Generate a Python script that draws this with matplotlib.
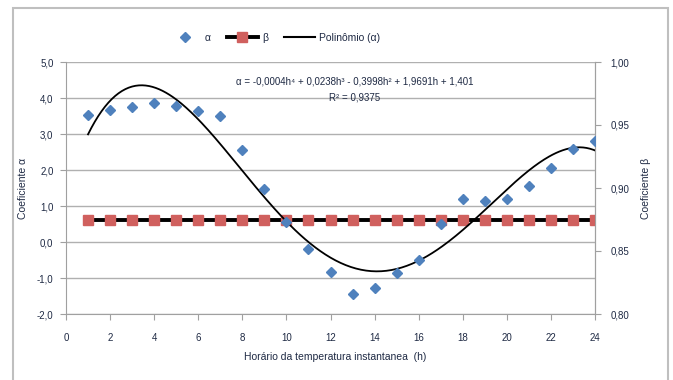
import numpy as np
import matplotlib
matplotlib.use("Agg")
import matplotlib.pyplot as plt
from matplotlib.patches import Rectangle

hours = list(range(1, 25))
alpha = [3.53, 3.67, 3.75, 3.86, 3.78, 3.64, 3.50, 2.56, 1.47, 0.56, -0.19, -0.83,
         -1.44, -1.28, -0.86, -0.50, 0.50, 1.20, 1.14, 1.20, 1.56, 2.06, 2.58, 2.80]
beta = [0.875] * 24
yticks_left = [-2.0, -1.0, 0.0, 1.0, 2.0, 3.0, 4.0, 5.0]
yticks_right = [0.80, 0.85, 0.90, 0.95, 1.00]
xticks = list(range(0, 25, 2))

plt.rcParams['font.family'] = ['Liberation Sans', 'DejaVu Sans']
txt = '#1f2a44'
W, H = 673, 380
fig = plt.figure(figsize=(W/100, H/100), dpi=100)
fig.patches.append(Rectangle((13/W, -0.1), (668-13)/W, 1.1 - 8/H, transform=fig.transFigure,
                             fill=False, edgecolor='#bfbfbf', linewidth=1.5))

l, r, t, b = 66, 595, 62, 314
ax = fig.add_axes([l/W, 1 - b/H, (r-l)/W, (b-t)/H])
ax.set_xlim(0, 24)
ax.set_ylim(-2, 5)
ax.set_yticks(yticks_left)
ax.set_yticklabels([f"{v:.1f}".replace('.', ',') for v in yticks_left])
ax.set_xticks(xticks)
ax.set_xticklabels([str(v) for v in xticks])
for y in yticks_left:
    ax.axhline(y, color='#b0b0b0', lw=1.0, zorder=0)
ax.spines['top'].set_visible(False)
for s in ['left', 'bottom', 'right']:
    ax.spines[s].set_color('#a0a0a0')
ax.tick_params(axis='both', direction='out', length=4, color='#a0a0a0', labelsize=7, labelcolor=txt)
ax.tick_params(axis='y', pad=5)
ax.tick_params(axis='x', pad=10)

ax2 = ax.twinx()
ax2.set_ylim(0.80, 1.00)
ax2.set_yticks(yticks_right)
ax2.set_yticklabels([f"{v:.2f}".replace('.', ',') for v in yticks_right])
for s in ['top', 'left', 'bottom']:
    ax2.spines[s].set_visible(False)
ax2.spines['right'].set_color('#a0a0a0')
ax2.tick_params(axis='y', direction='out', length=4, color='#a0a0a0', labelsize=7, labelcolor=txt, pad=7)

# beta on secondary axis
lb, = ax2.plot(hours, beta, color='black', lw=2.8, marker='s', markersize=6.5,
               markerfacecolor='#d0605e', markeredgecolor='#d0605e', zorder=3, label='β')

# polynomial trendline of alpha
coef = np.polyfit(hours, alpha, 4)
hh = np.linspace(1, 24, 300)
lp, = ax2.plot([], [], color='black', lw=1.5, label='Polinômio (α)')
ax.plot(hh, np.polyval(coef, hh), color='black', lw=1.3, zorder=4)
la, = ax.plot(hours, alpha, linestyle='none', marker='D', markersize=5.5,
              color='#4f81bd', zorder=5, label='α')
ax.set_zorder(ax2.get_zorder() + 1)
ax.patch.set_visible(False)

fig.text(23/W, 1 - 188/H, 'Coeficiente α', rotation=90, ha='center', va='center',
         fontsize=7.5, color=txt)
fig.text(646/W, 1 - 188/H, 'Coeficiente β', rotation=90, ha='center', va='center',
         fontsize=7.5, color=txt)
fig.text(335/W, 1 - 357/H, 'Horário da temperatura instantanea  (h)', ha='center', va='center',
         fontsize=7.5, color=txt)

fig.text(355/W, 1 - 81/H, 'α = -0,0004h⁴ + 0,0238h³ - 0,3998h² + 1,9691h + 1,401',
         ha='center', va='center', fontsize=7, color=txt)
fig.text(355/W, 1 - 98/H, 'R² = 0,9375', ha='center', va='center', fontsize=7, color=txt)

fig.legend(handles=[la, lb, lp], loc='center', bbox_to_anchor=(275/W, 1 - 38/H), ncol=3,
           frameon=False, fontsize=7.5, handlelength=3, columnspacing=1.5, handletextpad=0.4,
           labelcolor=txt)

fig.savefig('out.png', dpi=100)
